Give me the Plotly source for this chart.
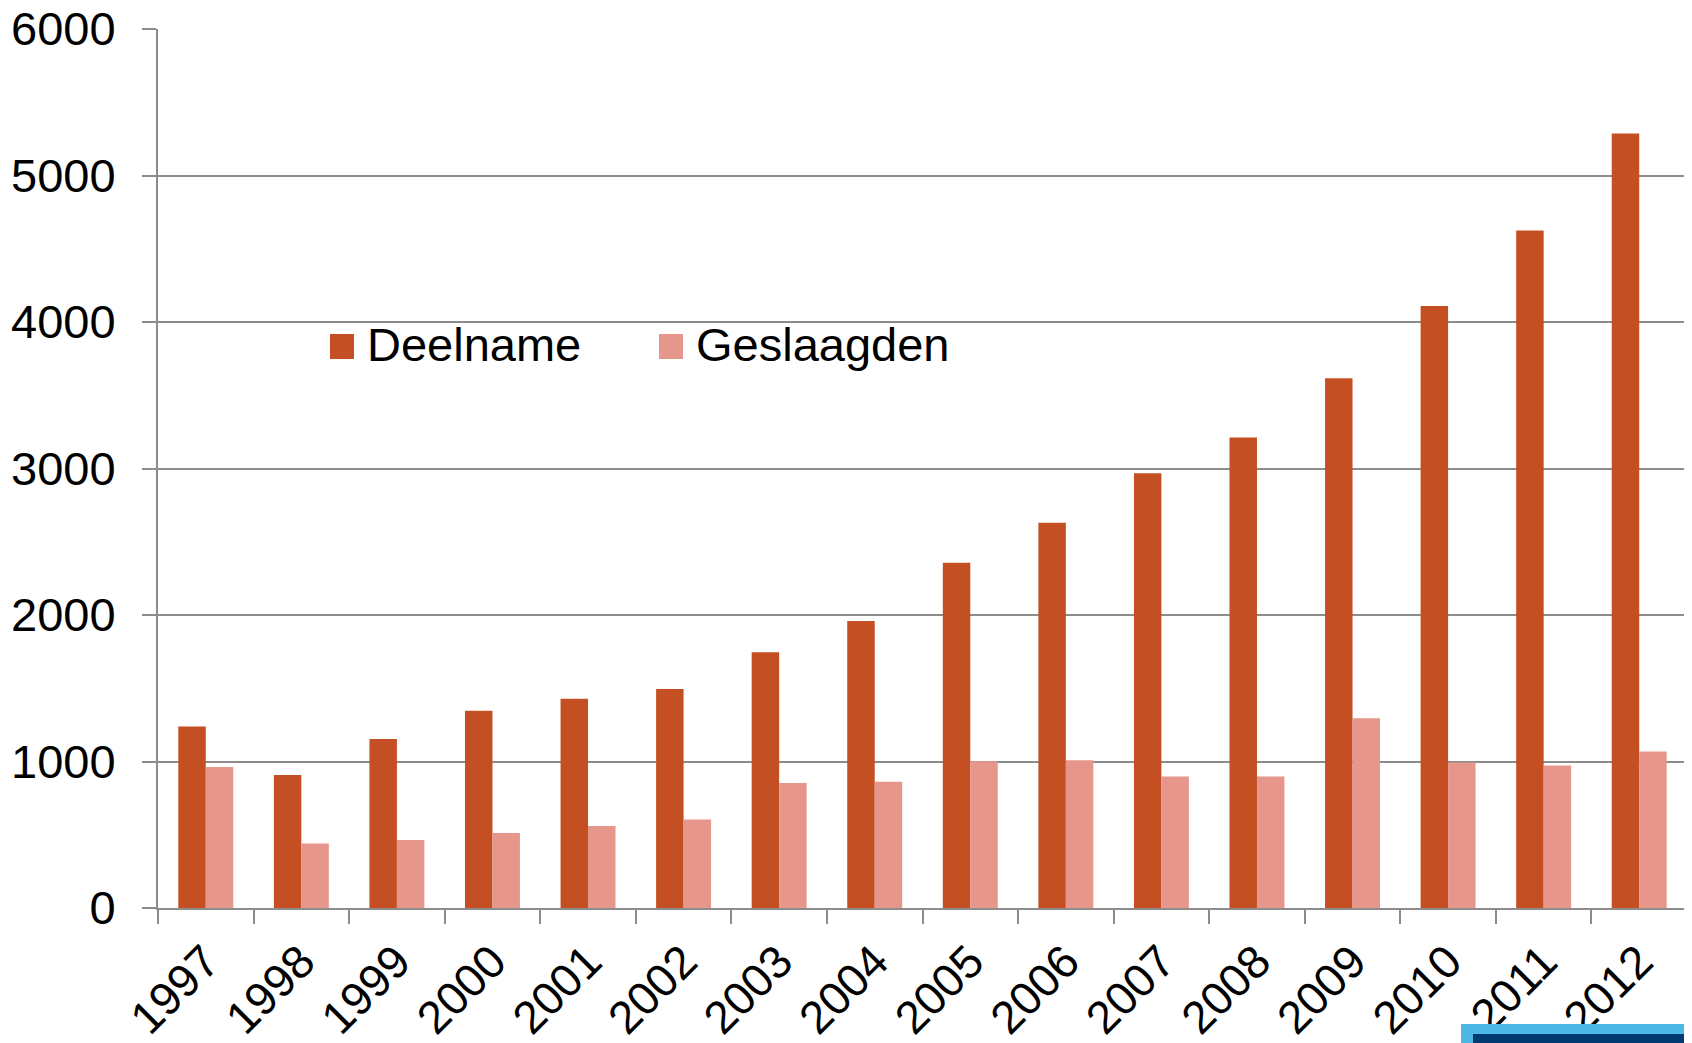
import plotly.graph_objects as go

years = ["1997", "1998", "1999", "2000", "2001", "2002", "2003", "2004",
         "2005", "2006", "2007", "2008", "2009", "2010", "2011", "2012"]
deelname = [1239, 907, 1153, 1346, 1429, 1495, 1745, 1959,
            2356, 2629, 2968, 3211, 3616, 4109, 4624, 5287]
geslaagden = [962, 441, 464, 512, 560, 604, 854, 862,
              1001, 1009, 898, 898, 1296, 994, 972, 1068]
y_ticks = [0, 1000, 2000, 3000, 4000, 5000, 6000]
series_names = ["Deelname", "Geslaagden"]
series_colors = ["#C34F22", "#E6968A"]

# the page body adds an 8px offset; compensate so the plot lands where the original is
OFF = 8
W, H = 1692, 1043
L, T = 158 - OFF, 29 - OFF
R = W - (1687 - OFF)
B = H - (908 - OFF)
PW, PH = W - L - R, H - T - B


def px_x(x):
    return (x - OFF - L) / PW


def px_y(y):
    return (H - B - (y - OFF)) / PH


fig = go.Figure()
for name, vals, col in zip(series_names, [deelname, geslaagden], series_colors):
    fig.add_trace(go.Bar(x=years, y=vals, name=name,
                         marker=dict(color=col, line=dict(width=0))))

grid = "#8C8C8C"
shapes = []
annotations = []
# manual legend (large square swatches like the original)
leg_sq_x = [330, 659]
for i, (name, col) in enumerate(zip(series_names, series_colors)):
    x0 = leg_sq_x[i]
    shapes.append(dict(type="rect", xref="paper", yref="paper",
                       x0=px_x(x0), x1=px_x(x0 + 24), y0=px_y(359), y1=px_y(334),
                       fillcolor=col, line=dict(width=0)))
    annotations.append(dict(text=name, xref="paper", yref="paper",
                            x=px_x(x0 + 35), y=px_y(345), xanchor="left", yanchor="middle",
                            showarrow=False, font=dict(size=47, color="black")))

# decorative bar in the bottom-right corner
shapes.append(dict(type="rect", xref="paper", yref="paper", x0=px_x(1461), x1=px_x(1710),
                   y0=px_y(1060), y1=px_y(1024), fillcolor="#4DB8E8", line=dict(width=0)))
shapes.append(dict(type="rect", xref="paper", yref="paper", x0=px_x(1473), x1=px_x(1710),
                   y0=px_y(1060), y1=px_y(1034), fillcolor="#003A70", line=dict(width=0)))

fig.update_layout(
    width=W, height=H,
    margin=dict(l=L, r=R, t=T, b=B),
    paper_bgcolor="white", plot_bgcolor="white",
    barmode="group", bargap=0.425, bargroupgap=0,
    font=dict(family="Liberation Sans, Arial, sans-serif", color="black"),
    showlegend=False,
    xaxis=dict(type="category", showgrid=False, showline=True, linecolor=grid, linewidth=2,
               ticks="outside", tickson="boundaries", ticklen=14, tickwidth=2, tickcolor=grid,
               tickangle=-45, tickfont=dict(size=46), ticklabelstandoff=6, automargin=False,
               ticklabeloverflow="allow"),
    yaxis=dict(range=[0, 6000], tickvals=y_ticks, showgrid=True, gridcolor=grid, gridwidth=2,
               showline=True, linecolor=grid, linewidth=2, zeroline=False,
               ticks="outside", ticklen=14, tickwidth=2, tickcolor=grid,
               tickfont=dict(size=47), ticklabelstandoff=17, automargin=False,
               ticklabeloverflow="allow"),
    shapes=shapes,
    annotations=annotations,
)

fig.write_html("out.html")
